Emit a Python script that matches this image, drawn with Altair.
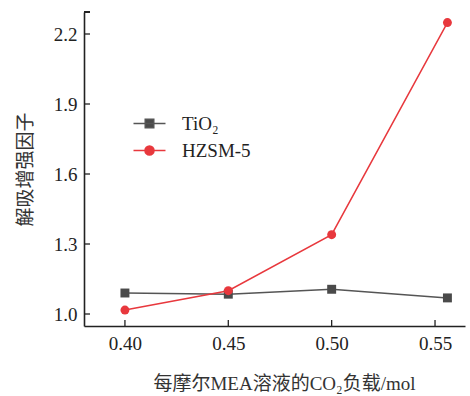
import altair as alt
import pandas as pd

# ---- data ----
loading = [0.40, 0.45, 0.50, 0.556]
tio2 = [1.090, 1.085, 1.106, 1.069]
hzsm5 = [1.017, 1.100, 1.340, 2.249]
series_names = ["TiO₂", "HZSM-5"]
x_ticks = [0.40, 0.45, 0.50, 0.55]
y_ticks = [1.0, 1.3, 1.6, 1.9, 2.2]

rows = []
for xv, a, b in zip(loading, tio2, hzsm5):
    rows.append({"x": xv, "y": a, "series": series_names[0]})
    rows.append({"x": xv, "y": b, "series": series_names[1]})
df = pd.DataFrame(rows)
xt = pd.DataFrame({"t": x_ticks})
yt = pd.DataFrame({"t": y_ticks})

colors = ["#555555", "#e8383d"]
fillc = ["#4a4a4a", "#e8383d"]
W, H = 381, 314
FONT = "Liberation Serif, Noto Sans CJK SC"

xs = alt.Scale(domain=[0.3802, 0.5645], nice=False, zero=False)
ys = alt.Scale(domain=[0.9486, 2.2943], nice=False, zero=False)

base = alt.Chart(df)
xenc = alt.X("x:Q", scale=xs, axis=alt.Axis(
    values=x_ticks, format=".2f", tickSize=0, labelPadding=8, grid=False,
    title="每摩尔MEA溶液的CO₂负载/mol", titleY=63, titleX=200,
    titleBaseline="alphabetic", titleAlign="center"))
yenc = alt.Y("y:Q", scale=ys, axis=alt.Axis(
    values=y_ticks, format=".1f", tickSize=0, labelPadding=7, grid=False,
    title="解吸增强因子", titleX=-59, titleBaseline="middle", titleAngle=270))

lines = base.mark_line(strokeWidth=1.5).encode(
    x=xenc, y=yenc,
    color=alt.Color("series:N", scale=alt.Scale(domain=series_names, range=colors), legend=None),
    detail="series:N")
points = base.mark_point(filled=True, size=80, opacity=1).encode(
    x="x:Q", y="y:Q",
    fill=alt.Fill("series:N", scale=alt.Scale(domain=series_names, range=fillc), legend=None),
    shape=alt.Shape("series:N", scale=alt.Scale(domain=series_names, range=["square", "circle"]), legend=None))

sq = "M-1.2,0H1.2M-0.32,-0.32H0.32V0.32H-0.32Z"
ci = "M-1.2,0H1.2M0.34,0A0.34,0.34 0 1,1 -0.34,0A0.34,0.34 0 1,1 0.34,0Z"


def legend_layer(idx, path, ypos):
    name = series_names[idx]
    leg = alt.Legend(title=None, orient="none", legendX=51, legendY=ypos,
                     symbolType=path, symbolSize=711, symbolStrokeWidth=1.5,
                     symbolFillColor=fillc[idx], symbolStrokeColor=colors[idx],
                     labelFont=FONT, labelFontSize=19, labelColor="#222",
                     labelOffset=18, symbolOpacity=1)
    fld = f"lg{idx}:N"
    return alt.Chart(df).transform_filter(alt.datum.series == name).transform_filter("false").mark_point(
        filled=True, opacity=1).encode(
        x="x:Q", y="y:Q",
        fill=alt.Fill(fld, scale=alt.Scale(domain=[name], range=[fillc[idx]]), legend=leg),
        stroke=alt.Stroke(fld, scale=alt.Scale(domain=[name], range=[colors[idx]]), legend=leg),
    ).transform_calculate(**{f"lg{idx}": "datum.series"})


legA = legend_layer(0, sq, 97)
legB = legend_layer(1, ci, 124)

xt_rule = alt.Chart(xt).mark_rule(color="#222", strokeWidth=1.3).encode(
    x=alt.X("t:Q", scale=xs), y=alt.value(H), y2=alt.value(H - 6))
yt_rule = alt.Chart(yt).mark_rule(color="#222", strokeWidth=1.3).encode(
    y=alt.Y("t:Q", scale=ys), x=alt.value(0), x2=alt.value(6))
cap = alt.Chart(yt).mark_rule(color="#222", strokeWidth=1.3).encode(
    y=alt.value(0), x=alt.value(0), x2=alt.value(6))

chart = alt.layer(lines, points, legA, legB, xt_rule, yt_rule, cap).resolve_scale(
    color="independent", shape="independent", fill="independent", stroke="independent"
).properties(
    width=W, height=H,
    autosize=alt.AutoSizeParams(type="none"),
    padding={"left": 84, "top": 12, "right": 5, "bottom": 70},
    background="white",
).configure_view(stroke=None).configure_axis(
    domainColor="#222", domainWidth=1.6, labelFont=FONT, labelFontSize=19,
    labelColor="#222", titleFont=FONT, titleFontSize=19, titleColor="#333",
    titleFontWeight="normal", labelFlush=False, labelOverlap=False
)

chart.save("out.html", embed_options={"renderer": "svg", "actions": False})
